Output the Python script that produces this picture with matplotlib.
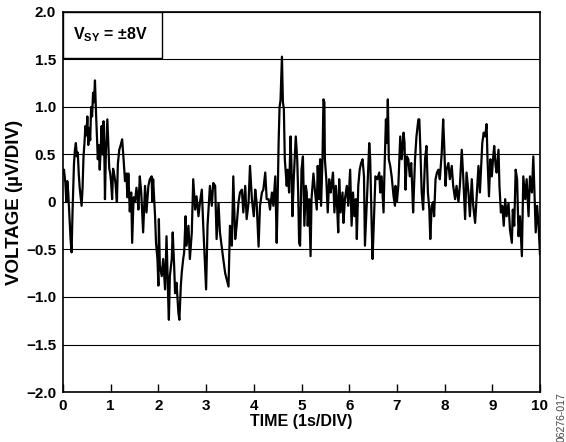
import numpy as np
import matplotlib
matplotlib.use("Agg")
import matplotlib.pyplot as plt
from matplotlib.patches import Rectangle

plt.rcParams['font.family'] = ['Liberation Sans', 'DejaVu Sans']
plt.rcParams['font.weight'] = 'bold'
plt.rcParams['mathtext.fontset'] = 'custom'
plt.rcParams['mathtext.bf'] = 'Liberation Sans:bold'
plt.rcParams['mathtext.rm'] = 'Liberation Sans:bold'

# noise trace (time in s, voltage in uV)
time_s = [
    0.00, 0.02, 0.05, 0.07, 0.09, 0.11, 0.14, 0.16, 0.18, 0.20, 0.23, 0.25, 0.27, 0.29, 0.31, 0.33,
    0.35, 0.37, 0.39, 0.41, 0.43, 0.45, 0.47, 0.49, 0.51, 0.53, 0.55, 0.57, 0.59, 0.61, 0.63, 0.65,
    0.67, 0.69, 0.71, 0.73, 0.75, 0.77, 0.79, 0.81, 0.83, 0.85, 0.87, 0.88, 0.90, 0.93, 0.95, 0.97,
    0.99, 1.01, 1.03, 1.05, 1.07, 1.10, 1.13, 1.15, 1.18, 1.21, 1.24, 1.27, 1.30, 1.33, 1.35, 1.37,
    1.40, 1.43, 1.45, 1.48, 1.51, 1.54, 1.57, 1.58, 1.61, 1.64, 1.68, 1.72, 1.75, 1.79, 1.82, 1.86,
    1.87, 1.89, 1.93, 1.95, 1.98, 2.00, 2.01, 2.03, 2.07, 2.10, 2.14, 2.17, 2.21, 2.22, 2.24, 2.28,
    2.30, 2.33, 2.35, 2.38, 2.42, 2.44, 2.47, 2.49, 2.52, 2.54, 2.57, 2.59, 2.63, 2.66, 2.70, 2.73,
    2.77, 2.80, 2.84, 2.87, 2.91, 2.94, 2.98, 3.00, 3.03, 3.05, 3.08, 3.12, 3.15, 3.19, 3.22, 3.26,
    3.29, 3.36, 3.40, 3.47, 3.50, 3.54, 3.57, 3.61, 3.64, 3.68, 3.71, 3.75, 3.78, 3.82, 3.85, 3.89,
    3.92, 3.96, 4.00, 4.03, 4.06, 4.10, 4.13, 4.17, 4.20, 4.24, 4.27, 4.31, 4.34, 4.38, 4.41, 4.45,
    4.48, 4.50, 4.52, 4.54, 4.56, 4.59, 4.61, 4.63, 4.65, 4.69, 4.71, 4.74, 4.77, 4.79, 4.81, 4.84,
    4.88, 4.91, 4.93, 4.95, 4.97, 5.00, 5.03, 5.06, 5.09, 5.11, 5.13, 5.16, 5.19, 5.21, 5.25, 5.28,
    5.32, 5.34, 5.37, 5.39, 5.41, 5.44, 5.46, 5.48, 5.49, 5.52, 5.55, 5.58, 5.61, 5.63, 5.66, 5.69,
    5.72, 5.74, 5.77, 5.79, 5.82, 5.86, 5.88, 5.91, 5.95, 5.98, 6.02, 6.05, 6.08, 6.11, 6.14, 6.16,
    6.19, 6.22, 6.25, 6.28, 6.31, 6.33, 6.36, 6.39, 6.42, 6.44, 6.47, 6.49, 6.52, 6.55, 6.59, 6.63,
    6.65, 6.68, 6.72, 6.74, 6.77, 6.79, 6.81, 6.82, 6.83, 6.86, 6.89, 6.93, 6.96, 6.97, 7.00, 7.03,
    7.07, 7.10, 7.14, 7.16, 7.18, 7.21, 7.24, 7.27, 7.30, 7.32, 7.34, 7.38, 7.41, 7.45, 7.47, 7.49,
    7.52, 7.55, 7.59, 7.62, 7.65, 7.68, 7.70, 7.73, 7.76, 7.78, 7.81, 7.84, 7.87, 7.90, 7.94, 7.97,
    7.99, 8.02, 8.04, 8.08, 8.11, 8.15, 8.18, 8.22, 8.25, 8.29, 8.32, 8.36, 8.39, 8.43, 8.46, 8.50,
    8.53, 8.57, 8.60, 8.64, 8.67, 8.71, 8.74, 8.76, 8.79, 8.82, 8.85, 8.88, 8.90, 8.93, 8.96, 8.99,
    9.02, 9.04, 9.07, 9.09, 9.13, 9.15, 9.18, 9.21, 9.24, 9.27, 9.30, 9.34, 9.37, 9.41, 9.43, 9.46,
    9.49, 9.52, 9.55, 9.58, 9.62, 9.65, 9.69, 9.72, 9.76, 9.79, 9.83, 9.86, 9.88, 9.91, 9.94, 9.97,
    10.00,
]
voltage_uv = [
    0.30, 0.34, 0.20, 0.00, 0.22, 0.10, -0.20, -0.40, -0.53, -0.10, 0.40, 0.55, 0.62, 0.48, 0.52, 0.30,
    0.15, 0.05, -0.04, 0.15, 0.48, 0.62, 0.80, 0.70, 0.90, 0.60, 0.78, 0.65, 1.00, 0.90, 1.15, 1.05,
    1.28, 0.97, 0.70, 0.45, 0.60, 0.34, 0.55, 0.80, 0.50, 0.85, 0.40, 0.03, 0.55, 0.87, 0.60, 0.35,
    0.30, 0.20, 0.03, 0.35, 0.30, 0.20, 0.00, 0.40, 0.55, 0.60, 0.66, 0.45, 0.22, 0.30, 0.05, 0.30,
    -0.10, 0.10, -0.43, 0.05, 0.00, 0.15, 0.00, -0.08, 0.27, 0.10, -0.32, 0.17, -0.11, 0.17, 0.24, 0.27,
    0.00, 0.24, -0.15, -0.43, -0.60, -0.88, -0.18, -0.67, -0.78, -0.60, -0.92, -0.36, -1.10, -1.24, -0.78, -0.60,
    -0.32, -0.67, -0.96, -0.85, -1.17, -1.24, -0.88, -0.74, -0.60, -0.53, -0.15, -0.46, -0.25, -0.60, -0.32, 0.24,
    -0.08, 0.06, -0.15, -0.01, 0.13, -0.25, -0.71, -0.92, -0.25, -0.08, 0.17, -0.04, 0.20, 0.17, -0.39, -0.01,
    -0.32, -0.60, -0.75, -0.89, -0.25, -0.46, 0.27, -0.39, -0.25, 0.00, 0.10, 0.13, -0.11, 0.17, -0.18, -0.01,
    0.38, 0.03, -0.15, 0.13, -0.01, -0.47, -0.04, 0.10, 0.13, 0.31, 0.03, 0.03, -0.08, 0.10, -0.04, 0.27,
    -0.43, 0.03, 0.62, 1.00, 1.07, 1.53, 1.05, 0.98, 0.45, 0.17, 0.34, 0.10, 0.69, 0.38, -0.15, 0.27,
    0.69, 0.45, 0.10, -0.43, -0.46, 0.34, 0.48, -0.25, 0.17, 0.10, -0.25, 0.03, -0.57, 0.03, 0.30, 0.13,
    -0.08, 0.38, 0.03, 0.45, -0.04, 0.45, 1.08, 1.05, 0.45, 0.24, -0.11, 0.24, 0.10, 0.17, 0.31, -0.11,
    0.17, 0.03, -0.32, 0.24, -0.11, 0.10, -0.22, 0.03, 0.17, -0.04, 0.34, -0.25, 0.10, -0.15, 0.03, -0.39,
    0.17, 0.34, 0.41, 0.45, 0.27, -0.46, -0.11, 0.24, 0.62, 0.45, -0.22, -0.60, -0.18, 0.27, 0.24, 0.31,
    0.10, 0.27, -0.11, 0.34, 0.87, 0.62, 1.08, 0.80, 0.45, 0.38, 0.27, 0.06, -0.04, 0.17, 0.00, 0.17,
    0.69, 0.45, 0.73, 0.62, 0.13, 0.48, 0.45, 0.27, 0.41, 0.17, -0.11, 0.45, 0.69, 0.87, 0.87, 0.59,
    0.10, -0.08, 0.45, 0.59, 0.10, -0.08, -0.39, -0.04, 0.00, -0.15, 0.24, 0.31, 0.34, 0.24, 0.52, 0.87,
    0.62, 0.17, 0.34, 0.41, 0.24, 0.38, 0.17, 0.03, 0.17, 0.00, 0.17, 0.55, 0.27, -0.18, 0.31, 0.10,
    -0.15, 0.24, -0.04, -0.22, 0.03, 0.38, 0.10, 0.31, 0.62, 0.73, 0.69, 0.82, 0.45, 0.06, 0.45, 0.27,
    0.48, 0.59, 0.38, 0.31, 0.55, 0.17, -0.11, -0.04, -0.25, 0.03, -0.15, -0.01, -0.29, -0.43, -0.08, -0.25,
    0.34, 0.24, -0.36, -0.15, -0.57, 0.27, 0.03, 0.24, -0.15, 0.27, 0.10, 0.48, 0.17, -0.32, -0.04, -0.25,
    -0.55,
]

y_ticks = [2.0, 1.5, 1.0, 0.5, 0, -0.5, -1.0, -1.5, -2.0]
y_labels = ['2.0', '1.5', '1.0', '0.5', '0', '\u22120.5', '\u22121.0', '\u22121.5', '\u22122.0']
x_ticks = list(range(11))

fig = plt.figure(figsize=(5.66, 4.42), dpi=100)
ax = fig.add_axes([63/566, 1 - 392/442, 477/566, 380/442])

for yv in y_ticks:
    ax.axhline(yv, color='black', lw=0.8, zorder=1)
ax.plot(time_s, voltage_uv, color='black', lw=1.6, zorder=3)

ax.set_xlim(0, 10)
ax.set_ylim(-2.0, 2.0)
ax.set_xticks(x_ticks)
ax.set_yticks(y_ticks)
ax.set_yticklabels(y_labels)
ax.tick_params(axis='x', direction='in', length=6, width=1.0, pad=5, labelsize=11)
ax.tick_params(axis='y', length=0, pad=5, labelsize=11)
for s in ax.spines.values():
    s.set_linewidth(1.2)

ax.set_xlabel('TIME (1s/DIV)', fontsize=11.5, fontweight='bold', labelpad=1)
ax.set_ylabel('VOLTAGE (\u00b5V/DIV)', fontsize=13.5, fontweight='bold', labelpad=2)

# supply label box
ax.add_patch(Rectangle((0, 1.52), 2.08, 0.48, transform=ax.transData,
                       facecolor='white', edgecolor='black', lw=1.0, zorder=4))
ax.text(0.21, 1.76, 'V$_{\\mathbf{SY}}$ = \u00b18V',
        fontsize=11.5, fontweight='bold', va='center', ha='left', zorder=5)

fig.text(562/566, 0.0, '06276-017', rotation=90, fontsize=7.5, color='#444444',
         ha='center', va='bottom', fontweight='normal')

fig.savefig('out.png', dpi=100)
